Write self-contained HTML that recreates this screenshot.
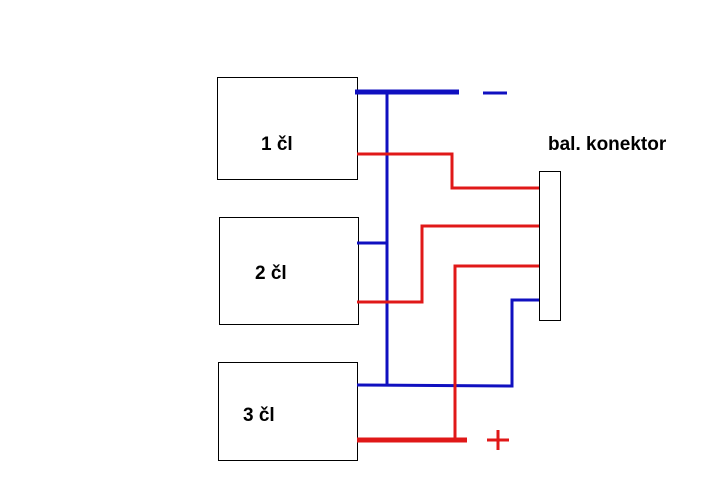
<!DOCTYPE html>
<html><head><style>body{margin:0;background:#fff}</style></head><body>
<svg width="710" height="504" xmlns="http://www.w3.org/2000/svg" style="display:block">
<g fill="#fff" stroke="#000" stroke-width="1">
<rect x="217.5" y="77.5" width="140" height="102"/>
<rect x="219.5" y="217.5" width="139" height="107"/>
<rect x="218.5" y="362.5" width="139" height="98"/>
<rect x="539.5" y="171.5" width="21" height="149"/>
</g>
<g fill="none" stroke="#1010c0" stroke-width="3">
<line x1="355" y1="92" x2="459" y2="92" stroke-width="5"/>
<line x1="483" y1="93" x2="507" y2="93"/>
<line x1="387" y1="92" x2="387" y2="386"/>
<line x1="357" y1="243" x2="386" y2="243"/>
<polyline points="357,385 512,386 512,300 539,300"/>
</g>
<g fill="none" stroke="#e01818" stroke-width="3">
<polyline points="357,154 452,154 452,188 539,188"/>
<polyline points="357,302 422,302 422,226 539,226"/>
<polyline points="539,266 455,266 455,440"/>
<line x1="357" y1="440" x2="467" y2="440" stroke-width="5"/>
<line x1="487" y1="440" x2="509" y2="440"/>
<line x1="498" y1="430" x2="498" y2="450"/>
</g>
<g font-family="Liberation Sans, sans-serif" font-weight="bold" font-size="19" fill="#000">
<text x="261" y="150">1 čl</text>
<text x="255" y="279">2 čl</text>
<text x="243" y="421">3 čl</text>
<text x="548" y="150">bal. konektor</text>
</g>
</svg>
</body></html>
